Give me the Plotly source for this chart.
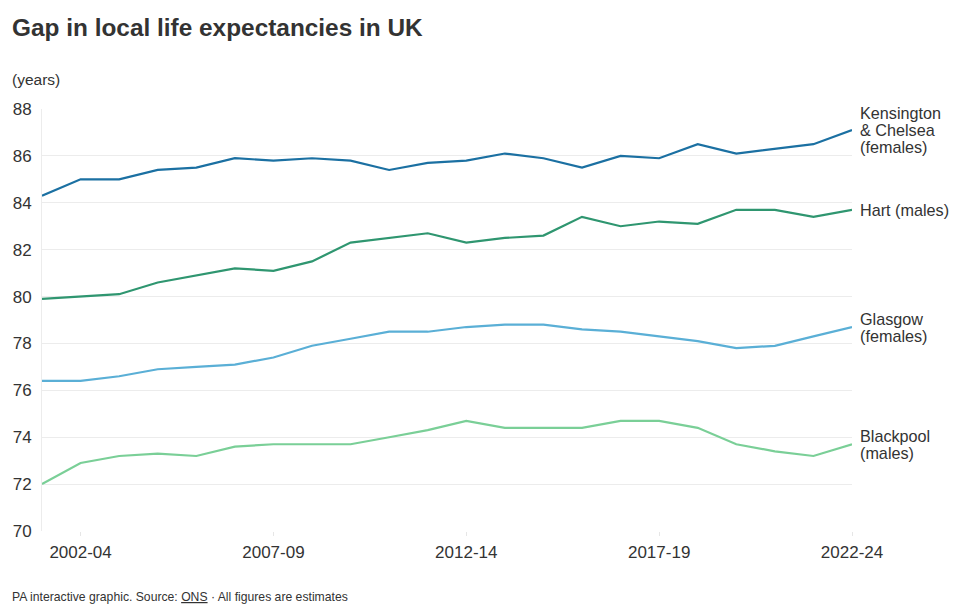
import plotly.graph_objects as go

# three-year periods on the x axis
periods = ["2001-03", "2002-04", "2003-05", "2004-06", "2005-07", "2006-08",
           "2007-09", "2008-10", "2009-11", "2010-12", "2011-13", "2012-14",
           "2013-15", "2014-16", "2015-17", "2016-18", "2017-19", "2018-20",
           "2019-21", "2020-22", "2021-23", "2022-24"]
tick_labels = ["2002-04", "2007-09", "2012-14", "2017-19", "2022-24"]

kensington = [84.3, 85.0, 85.0, 85.4, 85.5, 85.9, 85.8, 85.9, 85.8, 85.4, 85.7,
              85.8, 86.1, 85.9, 85.5, 86.0, 85.9, 86.5, 86.1, 86.3, 86.5, 87.1]
hart = [79.9, 80.0, 80.1, 80.6, 80.9, 81.2, 81.1, 81.5, 82.3, 82.5, 82.7,
        82.3, 82.5, 82.6, 83.4, 83.0, 83.2, 83.1, 83.7, 83.7, 83.4, 83.7]
glasgow = [76.4, 76.4, 76.6, 76.9, 77.0, 77.1, 77.4, 77.9, 78.2, 78.5, 78.5,
           78.7, 78.8, 78.8, 78.6, 78.5, 78.3, 78.1, 77.8, 77.9, 78.3, 78.7]
blackpool = [72.0, 72.9, 73.2, 73.3, 73.2, 73.6, 73.7, 73.7, 73.7, 74.0, 74.3,
             74.7, 74.4, 74.4, 74.4, 74.7, 74.7, 74.4, 73.7, 73.4, 73.2, 73.7]

series = [
    ("Kensington<br>& Chelsea<br>(females)", kensington, "#1b70a2"),
    ("Hart (males)", hart, "#2f9670"),
    ("Glasgow<br>(females)", glasgow, "#5aafd6"),
    ("Blackpool<br>(males)", blackpool, "#7acf97"),
]

FONT = "Liberation Sans"
TEXT = "#333333"

fig = go.Figure()
annotations = []
for name, vals, col in series:
    fig.add_trace(go.Scatter(x=periods, y=vals, mode="lines", name=name,
                             line=dict(color=col, width=2.2)))
    # end-of-line label, one annotation per line to keep the spacing tight
    lines = name.split("<br>")
    n = len(lines)
    for i, txt in enumerate(lines):
        annotations.append(dict(
            x=periods[-1], y=vals[-1], xref="x", yref="y",
            text=txt, showarrow=False, xanchor="left", yanchor="middle",
            xshift=6, yshift=((n - 1) / 2 - i) * 17,
            font=dict(family=FONT, size=16.2, color=TEXT)))


# header / footer placed by pixel position on the page
def px_note(text, x, y, size):
    return dict(text=text, xref="paper", yref="paper",
                x=(x - 42) / (852 - 42), y=(531 - y) / (531 - 109),
                xanchor="left", yanchor="middle", showarrow=False,
                font=dict(family=FONT, size=size, color=TEXT))


annotations += [
    px_note("<b>Gap in local life expectancies in UK</b>", 10, 28, 24.4),
    px_note("(years)", 10, 80, 15.5),
    px_note("PA interactive graphic. Source: <u>ONS</u> · All figures are estimates",
            10, 597, 12.2),
]

fig.update_layout(
    width=960, height=611,
    margin=dict(l=42, r=108, t=109, b=80),
    plot_bgcolor="white", paper_bgcolor="white",
    showlegend=False,
    font=dict(family=FONT, color=TEXT),
    annotations=annotations,
    xaxis=dict(type="category", tickvals=tick_labels, ticktext=tick_labels,
               range=[0, 21], showgrid=False, zeroline=False, showline=False,
               ticks="outside", ticklen=4, tickcolor="#e6e6e6",
               tickfont=dict(size=17, color=TEXT), ticklabelstandoff=2),
    yaxis=dict(range=[70, 88], dtick=2, showgrid=True, gridcolor="#ececec",
               gridwidth=1, zeroline=False, showline=True, linecolor="#ececec",
               ticks="", tickfont=dict(size=17, color=TEXT), ticklabelstandoff=6),
)

fig.write_html("out.html", config={"displayModeBar": False},
               post_script="document.body.style.margin='0';")
